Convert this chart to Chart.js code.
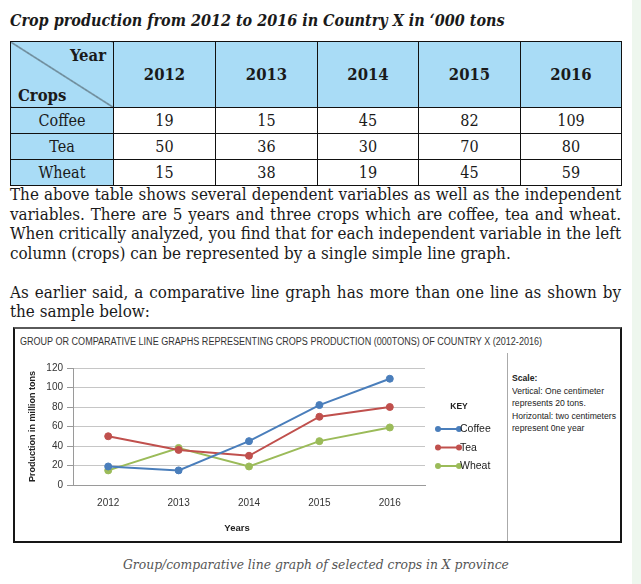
<!DOCTYPE html>
<html><head><meta charset="utf-8">
<script src="https://cdn.jsdelivr.net/npm/chart.js@4.4.1/dist/chart.umd.min.js"></script>
<style>
html,body{margin:0;padding:0;background:#fff;width:641px;height:584px;overflow:hidden;position:relative}
.strip{position:absolute;left:632px;top:0;width:9px;height:584px;background:#eef7ee}
.serif{font-family:"DejaVu Serif Condensed","DejaVu Serif",serif;font-stretch:condensed;color:#1a1a1a}
.abs{position:absolute;white-space:nowrap}
#title{left:10px;top:11px;font-weight:bold;font-style:italic;font-size:15px;line-height:20px}
#tbl{position:absolute;left:10px;top:41px;border-collapse:collapse;table-layout:fixed;width:611px}
#tbl td{border:1px solid #111;text-align:center;padding:0;font-size:16px;line-height:18px}
#tbl tr.head td{height:65px;background:#a9dcf6;font-weight:bold;font-size:16.5px}
#tbl tr.body td{height:25px;background:#fff}
#tbl tr.body td.rowh{background:#a9dcf6}
#corner{position:relative;background:linear-gradient(to top right,#a9dcf6 calc(50% - 0.7px),#222 50%,#a9dcf6 calc(50% + 0.7px)) !important}
#corner .yr{position:absolute;right:7px;top:5px}
#corner .cr{position:absolute;left:7px;bottom:2px}
.pl{left:10px;font-size:15px;line-height:19.5px;display:inline-block}
#frame{position:absolute;left:13px;top:327px;width:605px;height:212px;border:2px solid #161616;border-top-color:#5a5a5a;background:#fff}
#ctitle{position:absolute;left:5px;top:7px;font-family:"Liberation Sans",Arial,sans-serif;font-size:10px;color:#333;white-space:nowrap;transform-origin:0 50%}
#divider{position:absolute;left:492px;top:24px;width:1px;height:188px;background:#aaa}
#scale{position:absolute;left:497px;top:43px;font-family:"Liberation Sans",Arial,sans-serif;font-size:8.5px;line-height:12.5px;color:#222;white-space:nowrap;transform-origin:0 0}
#chartc{position:absolute;left:1px;top:23px}
#caption{top:555px;font-style:italic;color:#555;font-size:13px;line-height:18px}
</style></head>
<body>
<div class="strip"></div>
<div id="title" class="abs serif">Crop production from 2012 to 2016 in Country X in ‘000 tons</div>
<table id="tbl" class="serif"></table>
<div id="para"></div>
<div id="frame">
  <div id="ctitle">GROUP OR COMPARATIVE LINE GRAPHS REPRESENTING CROPS PRODUCTION (000TONS) OF COUNTRY X (2012-2016)</div>
  <div id="divider"></div>
  <div id="scale"><b>Scale:</b><br>Vertical: One centimeter<br>represents 20 tons.<br><span id="hz">Horizontal: two centimeters</span><br>represent 0ne year</div>
  <canvas id="chartc" width="489" height="188"></canvas>
</div>
<div id="caption" class="abs serif">Group/comparative line graph of selected crops in X province</div>
<script>
// ---- data ----
const years = ['2012','2013','2014','2015','2016'];
const crops = ['Coffee','Tea','Wheat'];
const coffee = [19,15,45,82,109];
const tea = [50,36,30,70,80];
const wheat = [15,38,19,45,59];
const yTicks = [0,20,40,60,80,100,120];
const seriesColors = ['#4a7ebb','#c0504d','#9bbb59'];
const paraLines = [
 'The above table shows several dependent variables as well as the independent',
 'variables. There are 5 years and three crops which are coffee, tea and wheat.',
 'When critically analyzed, you find that for each independent variable in the left',
 'column (crops) can be represented by a single simple line graph.',
 '',
 'As earlier said, a comparative line graph has more than one line as shown by',
 'the sample below:'
];
const justified = [true,true,true,false,false,true,false];
const series = [coffee, tea, wheat];

// ---- table ----
const tbl = document.getElementById('tbl');
const colW = [103,102,102,101,102,101];
let html = '<colgroup>' + colW.map(w=>'<col style="width:'+w+'px">').join('') + '</colgroup>';
html += '<tr class="head"><td id="corner"><span class="yr">Year</span><span class="cr">Crops</span></td>' + years.map(y=>'<td>'+y+'</td>').join('') + '</tr>';
crops.forEach((c,i)=>{
  html += '<tr class="body"><td class="rowh">'+c+'</td>' + series[i].map(v=>'<td>'+v+'</td>').join('') + '</tr>';
});
tbl.innerHTML = html;

// ---- paragraph ----
const para = document.getElementById('para');
const els = [];
paraLines.forEach((t,i)=>{
  const d = document.createElement('div');
  d.className = 'abs serif pl';
  d.style.top = (185 + i*19.5) + 'px';
  d.textContent = t;
  para.appendChild(d); els.push(d);
});
(function(){
  const ref = els[3];
  const w = ref.getBoundingClientRect().width;
  const fs = 15 * 501 / w;
  els.forEach(e=>e.style.fontSize = fs+'px');
  els.forEach((e,i)=>{
    if(justified[i]){
      const ww = e.getBoundingClientRect().width;
      const n = (e.textContent.match(/ /g)||[]).length;
      e.style.wordSpacing = ((611-ww)/n)+'px';
    }
  });
})();
function fitFont(el, target, base){
  const w = el.getBoundingClientRect().width;
  el.style.fontSize = (base*target/w)+'px';
}
const titleEl = document.getElementById('title');
fitFont(titleEl, 495, 15);
const cap = document.getElementById('caption');
fitFont(cap, 386, 13);
cap.style.left = '123px';
const ct = document.getElementById('ctitle');
ct.style.transform = 'scaleX(' + (522/ct.getBoundingClientRect().width) + ')';
const sc = document.getElementById('scale');
sc.style.transform = 'scaleX(' + (104/document.getElementById('hz').getBoundingClientRect().width) + ')';

// ---- chart ----
const FONT = '"Liberation Sans", Arial, sans-serif';
const keyPlugin = {
  id:'keyLegend',
  afterDraw(chart){
    const ctx = chart.ctx;
    ctx.save();
    ctx.fillStyle = '#222';
    ctx.font = 'bold 8.5px ' + FONT;
    ctx.textAlign = 'center'; ctx.textBaseline = 'middle';
    ctx.fillText('KEY', 443, 55);
    // x axis title
    const xa = chart.scales.x;
    ctx.font = 'bold 9.5px ' + FONT;
    ctx.fillText('Years', xa.left + (xa.right - xa.left)/2 - 12, 176);
    chart.data.datasets.forEach((ds,i)=>{
      const y = 77 + i*18.5;
      ctx.strokeStyle = ds.borderColor; ctx.fillStyle = ds.borderColor; ctx.lineWidth = 2;
      ctx.beginPath(); ctx.moveTo(422,y); ctx.lineTo(443,y); ctx.stroke();
      [422,443].forEach(x=>{ctx.beginPath(); ctx.arc(x,y,3,0,Math.PI*2); ctx.fill();});
      ctx.fillStyle = '#222';
      ctx.font = '10.5px ' + FONT;
      ctx.textAlign = 'left';
      ctx.fillText(ds.label, 444, y+0.5);
    });
    ctx.restore();
  }
};
new Chart(document.getElementById('chartc'), {
  type:'line',
  data:{
    labels: years,
    datasets: crops.map((c,i)=>({
      label:c, data:series[i], borderColor:seriesColors[i], backgroundColor:seriesColors[i],
      borderWidth:2, pointRadius:3.5, pointHoverRadius:3.5, pointBorderWidth:1, tension:0, fill:false
    }))
  },
  options:{
    responsive:false, animation:false, devicePixelRatio:1,
    layout:{padding:{top:16,right:80,bottom:0,left:7}},
    plugins:{legend:{display:false}, tooltip:{enabled:false}},
    scales:{
      x:{
        offset:true,
        grid:{display:false, drawTicks:false},
        border:{display:true,color:'#9a9a9a'},
        ticks:{font:{family:FONT, size:10}, color:'#333', padding:12},
        title:{display:false},
        afterFit(s){ s.height = 55; }
      },
      y:{
        min:0, max:120,
        afterBuildTicks(s){ s.ticks = yTicks.map(v=>({value:v})); },
        grid:{color:'#c6c6c6', tickLength:6, tickColor:'#999'},
        border:{display:true,color:'#9a9a9a'},
        ticks:{font:{family:FONT, size:10}, color:'#333', padding:4},
        title:{display:true,text:'Production in million tons',font:{family:FONT, size:9, weight:'bold'},color:'#222',padding:{top:4,bottom:4}},
        afterFit(s){ s.width = 50; }
      }
    }
  },
  plugins:[keyPlugin]
});
</script>
</body></html>
